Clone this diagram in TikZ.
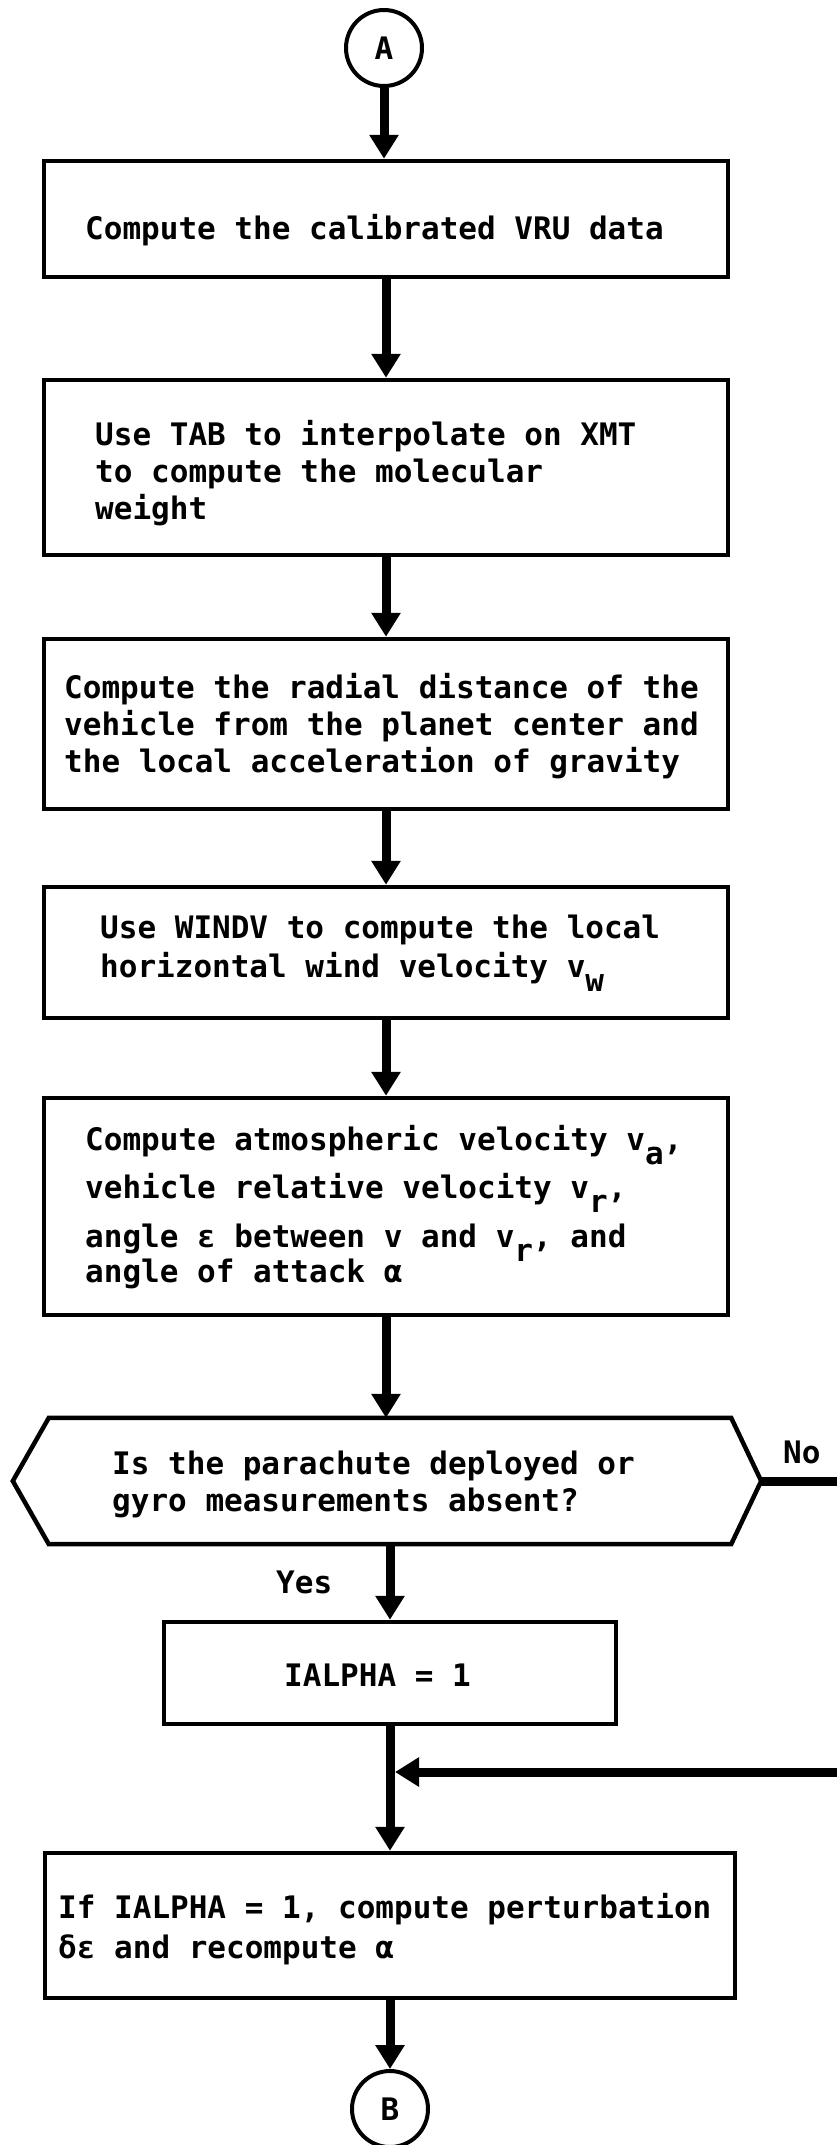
\documentclass[tikz,border=0pt]{standalone}
\usepackage{fontspec}
\setmonofont{DejaVu Sans Mono}
\usetikzlibrary{arrows.meta,calc}
\newcommand\sbs[1]{\raisebox{-14pt}{#1}}
\begin{document}
\begin{tikzpicture}[x=1pt,y=-1pt,
  font=\ttfamily\bfseries\fontsize{31}{37}\selectfont,
  execute at begin node={\spaceskip=\fontdimen2\font\xspaceskip=\fontdimen2\font\relax},
  boxnode/.style={draw, line width=4.5pt, rectangle, inner sep=0pt},
  txt/.style={anchor=base west, inner sep=0pt, align=left, text width=700pt},
  circnode/.style={draw, line width=4pt, circle, minimum size=76pt, inner sep=0pt},
  arr/.style={line width=9pt, -{Triangle[width=28pt,length=24pt]}},
  plainline/.style={line width=9pt}]
\useasboundingbox[fill=white] (0,0) rectangle (837,2145);

% boxes
\node[circnode] (A) at (384,48) {A};
\node[boxnode, minimum width=684pt, minimum height=116pt] (b1) at (386,219) {};
\node[boxnode, minimum width=684pt, minimum height=175pt] (b2) at (386,467.5) {};
\node[boxnode, minimum width=684pt, minimum height=170pt] (b3) at (386,724) {};
\node[boxnode, minimum width=684pt, minimum height=131pt] (b4) at (386,952.5) {};
\node[boxnode, minimum width=684pt, minimum height=217pt] (b5) at (386,1206.5) {};
\node[inner sep=0pt, minimum width=682pt, minimum height=126pt] (H) at (390,1481) {};
\draw[line width=4.5pt, line join=miter]
  ($(H.west)+(-36,0)$) -- (H.north west) -- (H.north east) -- ($(H.east)+(30,0)$)
  -- (H.south east) -- (H.south west) -- cycle;
\node[boxnode, minimum width=452pt, minimum height=102pt] (ia) at (390,1673) {};
\node[boxnode, minimum width=690pt, minimum height=145pt] (b6) at (390,1925.5) {};
\node[circnode] (B) at (390,2109) {B};

% texts
\node[txt] (t1) at (85,239) {Compute the calibrated VRU data};
\node[txt] (t2) at (95,445) {Use TAB to interpolate on XMT\\to compute the molecular\\weight};
\node[txt] (t3) at (64,698) {Compute the radial distance of the\\vehicle from the planet center and\\the local acceleration of gravity};
\node[txt] (t4) at (100,938) {Use WINDV to compute the local\\[2pt]horizontal wind velocity v\sbs{w}};
\node[txt] (t5) at (85,1150) {Compute atmospheric velocity v\sbs{a},\\[8pt]vehicle relative velocity v\sbs{r},\\[10pt]angle ε between v and v\sbs{r}, and\\[-3pt]angle of attack α};
\node[txt] (th) at (112,1474) {Is the parachute deployed or\\gyro measurements absent?};
\node[txt] (tia) at (284,1686) {IALPHA = 1};
\node[txt] (t6) at (58,1918) {If IALPHA = 1, compute perturbation\\[3pt]δε and recompute α};
\node[anchor=base west, inner sep=0pt] (yes) at (276,1593) {Yes};
\node[anchor=base west, inner sep=0pt] (no) at (783,1463) {No};

% connectors
\coordinate (hexR) at ($(H.east)+(30,0)$);
\coordinate (noexit) at (837,1481);
\coordinate (noreturn) at (837,1772);
\coordinate (join) at (395,1772);

\draw[arr] (A.south) -- (A.south |- b1.north);
\draw[arr] (b1.south) -- (b1.south |- b2.north);
\draw[arr] (b2.south) -- (b2.south |- b3.north);
\draw[arr] (b3.south) -- (b3.south |- b4.north);
\draw[arr] (b4.south) -- (b4.south |- b5.north);
\draw[arr] (b5.south) -- (b5.south |- H.north);
\draw[arr] (H.south) -- (H.south |- ia.north);
\draw[plainline] (hexR) -- (noexit);
\draw[arr] (ia.south) -- (ia.south |- b6.north);
\draw[arr] (noreturn) -- (join);
\draw[arr] (b6.south) -- (b6.south |- B.north);
\end{tikzpicture}
\end{document}
